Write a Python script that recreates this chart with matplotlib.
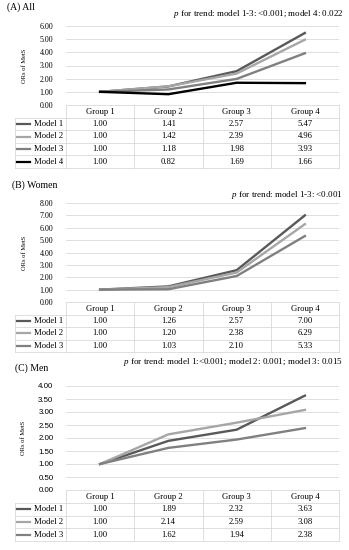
import matplotlib.pyplot as plt

plt.rcParams['mathtext.fontset'] = 'custom'
plt.rcParams['mathtext.it'] = 'Liberation Serif:italic'
plt.rcParams['mathtext.rm'] = 'Liberation Serif'

W, H = 349, 550
SERIF = 'Liberation Serif'
SANS = 'Liberation Sans'

groups = ['Group 1', 'Group 2', 'Group 3', 'Group 4']

# (A) All
all_m1 = [1.00, 1.41, 2.57, 5.47]
all_m2 = [1.00, 1.42, 2.39, 4.96]
all_m3 = [1.00, 1.18, 1.98, 3.93]
all_m4 = [1.00, 0.82, 1.69, 1.66]

# (B) Women
women_m1 = [1.00, 1.26, 2.57, 7.00]
women_m2 = [1.00, 1.20, 2.38, 6.29]
women_m3 = [1.00, 1.03, 2.10, 5.33]

# (C) Men
men_m1 = [1.00, 1.89, 2.32, 3.63]
men_m2 = [1.00, 2.14, 2.59, 3.08]
men_m3 = [1.00, 1.62, 1.94, 2.38]

colors = ['#595959', '#a6a6a6', '#808080', '#000000']
grid_c = '#d9d9d9'


def box(x0, y0, x1, y1):
    return [x0 / W, 1 - y1 / H, (x1 - x0) / W, (y1 - y0) / H]


def panel(fig, series, top, zero, tbl_bot, ymax, step, tick_font,
          title, title_xy, ptext, p_y):
    # line chart
    ax = fig.add_axes(box(66, top, 339, zero))
    xs = [i + 0.5 for i in range(len(groups))]
    for i, s in enumerate(series):
        ax.plot(xs, s, color=colors[i], lw=1.7, solid_joinstyle='miter')
    ax.set_xlim(0, 4)
    ax.set_ylim(0, ymax)
    n_ticks = int(round(ymax / step)) + 1
    ticks = [k * step for k in range(n_ticks)]
    ax.set_yticks(ticks)
    ax.set_yticklabels([f'{t:.2f}' for t in ticks], family=tick_font, fontsize=5.7)
    ax.set_xticks([])
    ax.tick_params(axis='y', length=0, pad=9)
    for sp in ax.spines.values():
        sp.set_visible(False)
    ax.yaxis.grid(True, color=grid_c, lw=0.6)
    ax.set_axisbelow(True)
    ax.set_ylabel('ORs of MetS', family=SERIF, fontsize=4.7, labelpad=9)

    # data table
    n = len(series)
    lw_col = (66 - 15) / 68.25
    tx = fig.add_axes(box(15, zero, 339, tbl_bot))
    tx.set_xlim(-lw_col, 4)
    tx.set_ylim(n + 1, 0)
    tx.axis('off')
    tx.plot([0, 4], [0, 0], color=grid_c, lw=0.6, clip_on=False)
    for r in range(1, n + 2):
        tx.plot([-lw_col, 4], [r, r], color=grid_c, lw=0.6, clip_on=False)
    for c in range(0, 5):
        tx.plot([c, c], [0, n + 1], color=grid_c, lw=0.6, clip_on=False)
    tx.plot([-lw_col, -lw_col], [1, n + 1], color=grid_c, lw=0.6, clip_on=False)
    for c, g in enumerate(groups):
        tx.text(c + 0.5, 0.55, g, ha='center', va='center', family=SERIF, fontsize=6.2)
    for i, s in enumerate(series):
        y = i + 1.5
        tx.plot([-lw_col + 0.03, -0.53], [y, y], color=colors[i], lw=1.6)
        tx.text(-0.04, y, f'Model {i + 1}', ha='right', va='center',
                family=SERIF, fontsize=6.2)
        for c, v in enumerate(s):
            tx.text(c + 0.5, y, f'{v:.2f}', ha='center', va='center',
                    family=SERIF, fontsize=6.2)

    fig.text(title_xy[0] / W, 1 - title_xy[1] / H, title, ha='left', va='center',
             family=SERIF, fontsize=7)
    fig.text(343 / W, 1 - p_y / H, ptext, ha='right', va='center',
             family=SERIF, fontsize=6.5)


fig = plt.figure(figsize=(W / 100, H / 100), dpi=100)

panel(fig, [all_m1, all_m2, all_m3, all_m4], 26, 105, 168, 6, 1, SERIF,
      '(A) All', (7, 7),
      r'$\it{p}$ for trend: model 1-3: <0.001; model 4: 0.022', 14)
panel(fig, [women_m1, women_m2, women_m3], 203, 302, 352, 8, 1, SERIF,
      '(B) Women', (12, 185),
      r'$\it{p}$ for trend: model 1-3: <0.001', 195)
panel(fig, [men_m1, men_m2, men_m3], 386, 490, 541, 4, 0.5, SANS,
      '(C) Men', (15, 368),
      r'$\it{p}$ for trend: model 1:<0.001; model 2: 0.001; model 3: 0.015', 362)

fig.savefig('out.png', dpi=100)
